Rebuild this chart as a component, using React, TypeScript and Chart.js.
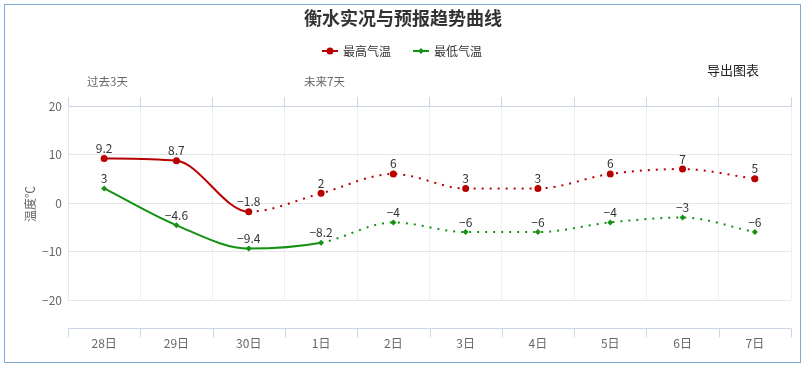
import React, { useEffect, useRef } from "react";
import { Chart, registerables } from "chart.js";

Chart.register(...registerables);

const categories = ["28日", "29日", "30日", "1日", "2日", "3日", "4日", "5日", "6日", "7日"];
const maxTemps = [9.2, 8.7, -1.8, 2, 6, 3, 3, 6, 7, 5];
const minTemps = [3, -4.6, -9.4, -8.2, -4, -6, -6, -4, -3, -6];
const maxSolidUntil = 2; // index of last observed point (max)
const minSolidUntil = 3; // index of last observed point (min)
const yTicks = [20, 10, 0, -10, -20];

const FONT = "'Noto Sans CJK SC', 'Noto Sans', sans-serif";
const RED = "#b80000";
const GREEN = "#139113";
const AXIS = "#ccd6eb";

const fmt = (v: number) => String(v).replace("-", "−");

const decor = {
  id: "decor",
  afterDatasetsDraw(chart: any) {
    const ctx = chart.ctx;
    ctx.save();
    ctx.font = `12px ${FONT}`;
    ctx.fillStyle = "#333";
    ctx.textAlign = "center";
    ctx.textBaseline = "bottom";
    chart.data.datasets.forEach((ds: any, di: number) => {
      const meta = chart.getDatasetMeta(di);
      meta.data.forEach((pt: any, i: number) => {
        ctx.fillText(fmt(ds.data[i]), pt.x, pt.y - 4);
      });
    });
    ctx.restore();
  },
  afterDraw(chart: any) {
    const ctx = chart.ctx;
    const area = chart.chartArea;
    const xs = chart.scales.x;
    ctx.save();
    // outer border
    ctx.strokeStyle = "#7fa9d8";
    ctx.lineWidth = 1;
    ctx.strokeRect(4.5, 4.5, 796, 358);

    // bottom offset axis
    const n = categories.length;
    const step = (area.right - area.left) / n;
    const yAx = Math.round(area.bottom + 28) + 0.5;
    ctx.strokeStyle = AXIS;
    ctx.beginPath();
    ctx.moveTo(area.left, yAx);
    ctx.lineTo(area.right, yAx);
    for (let i = 0; i <= n; i++) {
      const bx = Math.round(xs.getPixelForValue(0) + (i - 0.5) * step) + 0.5;
      ctx.moveTo(bx, yAx);
      ctx.lineTo(bx, yAx + 9);
    }
    ctx.stroke();

    // title
    ctx.fillStyle = "#333";
    ctx.textAlign = "center";
    ctx.textBaseline = "middle";
    ctx.font = `bold 18px ${FONT}`;
    ctx.fillText("衡水实况与预报趋势曲线", 403, 18);

    // legend
    const legY = 51;
    const drawLeg = (x0: number, color: string, label: string, diamond: boolean) => {
      ctx.strokeStyle = color;
      ctx.lineWidth = 2;
      ctx.beginPath();
      ctx.moveTo(x0, legY);
      ctx.lineTo(x0 + 16, legY);
      ctx.stroke();
      ctx.fillStyle = color;
      ctx.beginPath();
      if (diamond) {
        ctx.moveTo(x0 + 8, legY - 3);
        ctx.lineTo(x0 + 11, legY);
        ctx.lineTo(x0 + 8, legY + 3);
        ctx.lineTo(x0 + 5, legY);
        ctx.closePath();
      } else {
        ctx.arc(x0 + 8, legY, 3.5, 0, Math.PI * 2);
      }
      ctx.fill();
      ctx.fillStyle = "#333";
      ctx.textAlign = "left";
      ctx.font = `12px ${FONT}`;
      ctx.fillText(label, x0 + 21, legY);
    };
    drawLeg(322, RED, "最高气温", false);
    drawLeg(413, GREEN, "最低气温", true);

    // export text
    ctx.fillStyle = "#222";
    ctx.font = `13px ${FONT}`;
    ctx.textAlign = "center";
    ctx.fillText("导出图表", 733, 70);

    // period notes
    ctx.fillStyle = "#666";
    ctx.font = `11.5px ${FONT}`;
    ctx.textAlign = "left";
    ctx.fillText("过去3天", 87, 82);
    ctx.fillText("未来7天", 304, 82);

    // y title
    ctx.save();
    ctx.translate(30, 204);
    ctx.rotate(-Math.PI / 2);
    ctx.textAlign = "center";
    ctx.fillStyle = "#666";
    ctx.font = `12px ${FONT}`;
    ctx.fillText("温度℃", 0, 0);
    ctx.restore();

    ctx.restore();
  },
};

export default function App() {
  const ref = useRef<HTMLCanvasElement>(null);
  useEffect(() => {
    if (!ref.current) return;
    Chart.defaults.font.family = FONT;
    const chart = new Chart(ref.current, {
      type: "line",
      data: {
        labels: categories,
        datasets: [
          {
            label: "最高气温",
            data: maxTemps,
            borderColor: RED,
            backgroundColor: RED,
            borderWidth: 2,
            pointRadius: 3.5,
            pointBorderWidth: 0,
            pointBackgroundColor: RED,
            cubicInterpolationMode: "monotone",
            segment: {
              borderDash: (c: any) => (c.p0DataIndex >= maxSolidUntil ? [2, 6] : undefined),
            },
          },
          {
            label: "最低气温",
            data: minTemps,
            borderColor: GREEN,
            backgroundColor: GREEN,
            borderWidth: 2,
            pointStyle: "rectRot",
            pointRadius: 3,
            pointBorderWidth: 0,
            pointBackgroundColor: GREEN,
            cubicInterpolationMode: "monotone",
            segment: {
              borderDash: (c: any) => (c.p0DataIndex >= minSolidUntil ? [2, 6] : undefined),
            },
          },
        ],
      },
      options: {
        animation: false,
        responsive: false,
        layout: { padding: { left: 0, right: 15, top: 0, bottom: 0 } },
        plugins: {
          legend: { display: false },
          title: { display: false },
          tooltip: { enabled: false },
        },
        scales: {
          x: {
            type: "category",
            position: "bottom",
            offset: true,
            grid: { display: true, color: "#efefef", drawTicks: false, offset: true },
            border: { display: false },
            ticks: { color: "#666", font: { size: 12 }, padding: 36 },
            afterFit: (s: any) => {
              s.height = 70;
            },
          },
          xTop: {
            type: "category",
            position: "top",
            labels: categories,
            offset: true,
            grid: {
              display: true,
              drawOnChartArea: false,
              drawTicks: true,
              tickLength: 9,
              color: AXIS,
              offset: true,
            },
            border: { display: true, color: AXIS },
            ticks: { display: false },
            afterFit: (s: any) => {
              s.height = 106;
            },
          },
          y: {
            min: -20,
            max: 20,
            afterBuildTicks: (s: any) => {
              s.ticks = yTicks.map((v) => ({ value: v }));
            },
            grid: { color: "#e6e6e6", drawTicks: false },
            border: { display: true, color: "#e6e6e6" },
            ticks: {
              color: "#666",
              font: { size: 12 },
              padding: 6,
              callback: (v: any) => fmt(v),
            },
            afterFit: (s: any) => {
              s.width = 68;
            },
          },
        },
      },
      plugins: [decor],
    });
    return () => chart.destroy();
  }, []);
  return (
    <div style={{ position: "absolute", left: 0, top: 0, width: 806, height: 370, background: "#fff" }}>
      <canvas ref={ref} width={806} height={370} style={{ width: 806, height: 370, display: "block" }} />
    </div>
  );
}
